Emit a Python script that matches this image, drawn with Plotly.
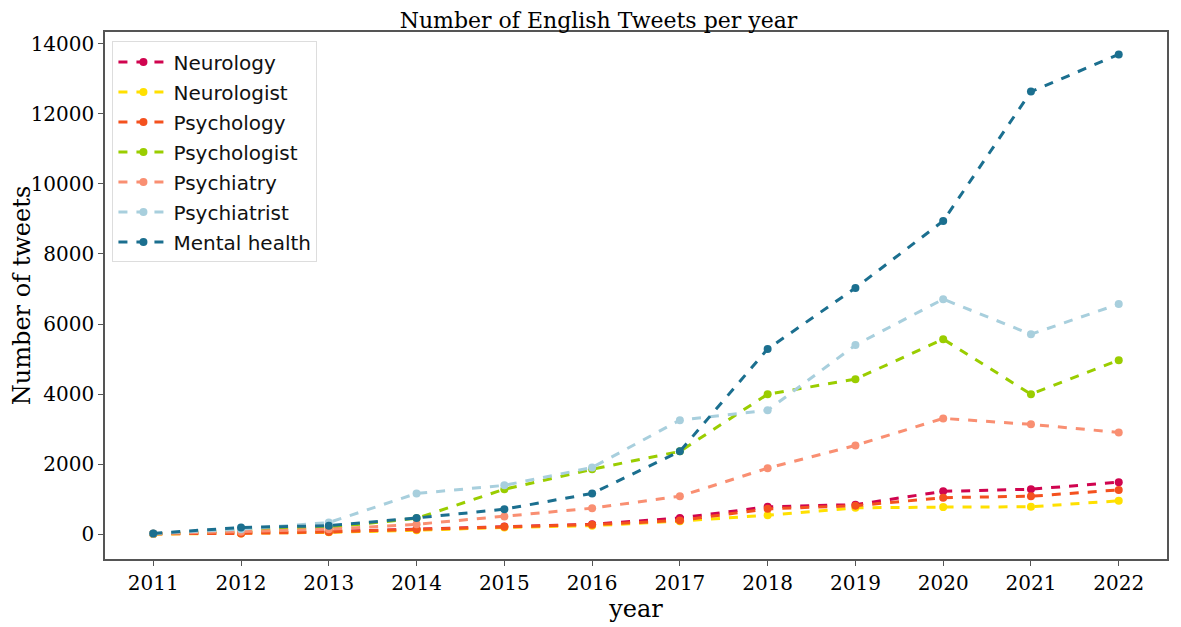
import plotly.graph_objects as go

years = [2011, 2012, 2013, 2014, 2015, 2016, 2017, 2018, 2019, 2020, 2021, 2022]

neurology = [20, 40, 80, 150, 230, 290, 470, 790, 850, 1230, 1290, 1490]
neurologist = [10, 30, 60, 120, 200, 250, 380, 550, 760, 780, 790, 960]
psychology = [20, 30, 70, 140, 220, 280, 400, 730, 820, 1050, 1090, 1270]
psychologist = [20, 100, 200, 460, 1290, 1860, 2370, 4000, 4430, 5570, 4000, 4970]
psychiatry = [20, 80, 150, 290, 510, 750, 1090, 1890, 2540, 3310, 3140, 2910]
psychiatrist = [30, 150, 340, 1170, 1400, 1910, 3260, 3540, 5400, 6710, 5710, 6570]
mental_health = [30, 200, 250, 470, 720, 1170, 2370, 5290, 7030, 8940, 12630, 13690]

y_ticks = [0, 2000, 4000, 6000, 8000, 10000, 12000, 14000]

series = [
    ("Neurology", neurology, "#d0044f"),
    ("Neurologist", neurologist, "#ffe000"),
    ("Psychology", psychology, "#f4511e"),
    ("Psychologist", psychologist, "#9acd00"),
    ("Psychiatry", psychiatry, "#f98f72"),
    ("Psychiatrist", psychiatrist, "#a8cfdd"),
    ("Mental health", mental_health, "#1b6f8f"),
]

fig = go.Figure()
for name, vals, col in series:
    fig.add_trace(go.Scatter(
        x=years, y=vals, name=name, legendgroup=name, mode="lines+markers",
        line=dict(color=col, width=3, dash="dash"),
        marker=dict(color=col, size=8),
    ))

serif = "DejaVu Serif"
# page body adds ~8px offset, margins compensate for it
fig.update_layout(
    width=1181, height=627,
    margin=dict(l=97, r=22, t=24, b=76),
    paper_bgcolor="white", plot_bgcolor="white",
    title=dict(text="Number of English Tweets per year", x=0.5, xanchor="center",
               y=0.981, yanchor="middle", font=dict(family=serif, size=22, color="#000")),
    xaxis=dict(range=[2010.45, 2022.55], tickvals=years, ticks="outside", ticklen=5,
               tickcolor="#555", showgrid=False, zeroline=False, showline=True,
               linecolor="#555", linewidth=1.5, mirror=True, automargin=False,
               tickfont=dict(family=serif, size=20, color="#000"),
               title=dict(text="year", font=dict(family=serif, size=24, color="#000"), standoff=0)),
    yaxis=dict(range=[-700, 14330], tickvals=y_ticks, ticktext=[str(v) for v in y_ticks],
               ticks="outside", ticklen=5, tickcolor="#555", showgrid=False, zeroline=False,
               showline=True, linecolor="#555", linewidth=1.5, mirror=True, automargin=False,
               tickfont=dict(family=serif, size=20, color="#000"),
               title=dict(text="Number of tweets", font=dict(family=serif, size=24, color="#000"), standoff=2)),
    legend=dict(x=0.007, y=0.982, xanchor="left", yanchor="top",
                bgcolor="rgba(255,255,255,0.9)", bordercolor="#ddd", borderwidth=1,
                font=dict(family="DejaVu Sans", size=20, color="#111"),
                tracegroupgap=1, itemwidth=50),
    showlegend=True,
)

fig.write_html("out.html")
